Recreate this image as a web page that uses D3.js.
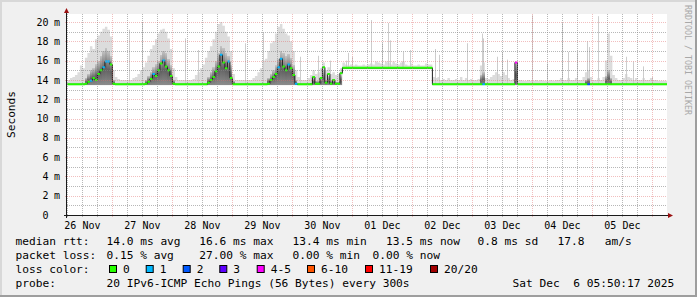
<!DOCTYPE html>
<meta charset="utf-8">
<style>
body { margin: 0; background: #fff; }
text { font-family: "DejaVu Sans Mono", monospace; fill: #000; }
.legend { font-size: 11.2px; }
.tick-label { font-size: 10px; }
.mark { font-size: 8.3px; fill: #a8a8a8; }
</style>
<svg id="chart" width="697" height="297"></svg>
<script src="https://cdn.jsdelivr.net/npm/d3@7"></script>
<script>

// time window of the graph (10 days)
var startTime = new Date(2025, 10, 26, 5, 50, 17);
var endTime = new Date(2025, 11, 6, 5, 50, 17);
var firstHour = new Date(2025, 10, 26, 6, 0, 0);

// median rtt in ms, one value per hour starting Nov 26 06:00
var median = [
  13.55,13.55,13.55,13.55,13.55,13.55,13.55,13.6, 13.8,13.9,14.2,14.0,14.6,15.0,15.3,15.9, 15.9,15.6,13.6,13.55,13.55,13.55,13.55,13.55,
  13.55,13.55,13.55,13.55,13.55,13.55,13.55,13.6, 13.8,14.1,14.6,14.4,15.0,15.7,16.0,15.4, 15.0,14.4,13.6,13.55,13.55,13.55,13.55,13.55,
  13.55,13.55,13.55,13.55,13.55,13.55,13.55,13.55, 13.7,14.0,14.3,14.9,15.4,16.6,15.8,15.2, 15.9,14.2,13.55,13.55,13.55,13.55,13.55,13.55,
  13.55,13.55,13.55,13.55,13.55,13.55,13.55,13.55, 13.6,14.0,14.3,14.6,15.3,16.2,15.4,15.0, 15.6,15.2,14.5,13.6,13.55,13.55,13.55,13.55,
  13.55,13.55,14.3,13.6,13.6,14.2,15.3,13.7, 14.6,13.6,14.0,13.6,13.6,14.7,15.25,15.25, 15.25,15.25,15.25,15.25,15.25,15.25,15.25,15.25,
  15.25,15.25,15.25,15.25,15.25,15.25,15.25,15.25, 15.25,15.25,15.25,15.25,15.25,15.25,15.25,15.25, 15.25,15.25,15.25,15.25,15.25,15.25,15.25,15.25,
  15.25,15.25,13.55,13.55,13.55,13.55,13.55,13.55, 13.55,13.55,13.55,13.55,13.55,13.55,13.55,13.55, 13.55,13.55,13.55,13.55,13.55,13.55,13.55,13.55,
  13.55,13.55,13.55,13.55,13.55,13.55,13.55,13.55, 13.55,13.55,13.55,15.8,13.55,13.55,13.55,13.55, 13.55,13.55,13.55,13.55,13.55,13.55,13.55,13.55,
  13.55,13.55,13.55,13.55,13.55,13.55,13.55,13.55, 13.55,13.55,13.55,13.55,13.55,13.55,13.55,13.55, 13.55,13.55,13.55,13.55,13.55,13.55,13.55,13.55,
  13.55,13.55,13.55,13.55,13.55,13.55,13.55,13.55, 13.55,13.55,13.55,13.55,13.55,13.55,13.55,13.55, 13.55,13.55,13.55,13.55,13.55,13.55,13.55,13.55
];

// smoke: bottom, top of dense core, top of light smoke (ms), per hour
var smokeLo = [
  13.45,13.45,13.45,13.45,13.45,13.45,13.45,13.45, 13.45,13.45,13.45,13.45,13.45,13.45,13.45,13.45, 13.45,13.45,13.45,13.45,13.45,13.45,13.45,13.45,
  13.45,13.45,13.45,13.45,13.45,13.45,13.45,13.45, 13.45,13.45,13.45,13.45,13.45,13.45,13.45,13.45, 13.45,13.45,13.45,13.45,13.45,13.45,13.45,13.45,
  13.45,13.45,13.45,13.45,13.45,13.45,13.45,13.45, 13.45,13.45,13.45,13.45,13.45,13.45,13.45,13.45, 13.45,13.45,13.45,13.45,13.45,13.45,13.45,13.45,
  13.45,13.45,13.45,13.45,13.45,13.45,13.45,13.45, 13.45,13.45,13.45,13.45,13.45,13.45,13.45,13.45, 13.45,13.45,13.45,13.45,13.45,13.45,13.45,13.45,
  13.45,13.45,13.45,13.45,13.45,13.45,13.45,13.45, 13.45,13.45,13.45,13.45,13.45,13.45,15.1,15.1, 15.1,15.1,15.1,15.1,15.1,15.1,15.1,15.1,
  15.1,15.1,15.1,15.1,15.1,15.1,15.1,15.1, 15.1,15.1,15.1,15.1,15.1,15.1,15.1,15.1, 15.1,15.1,15.1,15.1,15.1,15.1,15.1,15.1,
  15.1,15.1,13.45,13.45,13.45,13.45,13.45,13.45, 13.45,13.45,13.45,13.45,13.45,13.45,13.45,13.45, 13.45,13.45,13.45,13.45,13.45,13.45,13.45,13.45,
  13.45,13.45,13.45,13.45,13.45,13.45,13.45,13.45, 13.45,13.45,13.45,13.45,13.45,13.45,13.45,13.45, 13.45,13.45,13.45,13.45,13.45,13.45,13.45,13.45,
  13.45,13.45,13.45,13.45,13.45,13.45,13.45,13.45, 13.45,13.45,13.45,13.45,13.45,13.45,13.45,13.45, 13.45,13.45,13.45,13.45,13.45,13.45,13.45,13.45,
  13.45,13.45,13.45,13.45,13.45,13.45,13.45,13.45, 13.45,13.45,13.45,13.45,13.45,13.45,13.45,13.45, 13.45,13.45,13.45,13.45,13.45,13.45,13.45,13.45
];
var smokeMid = [
  13.6,13.6,13.6,13.6,13.6,13.6,13.6,14.2, 14.6,15.0,15.2,15.6,16.0,16.5,17.0,17.3, 17.0,16.5,14.0,13.6,13.6,13.6,13.6,13.6,
  13.6,13.6,13.6,13.6,13.6,13.6,13.6,14.0, 14.4,14.8,15.3,15.6,16.0,16.6,17.0,16.8, 16.2,15.5,14.0,13.6,13.6,13.6,13.6,13.6,
  13.6,13.6,13.6,13.6,13.6,13.6,13.6,13.6, 14.3,14.8,15.3,16.0,16.8,17.5,17.3,16.8, 16.5,15.5,13.9,13.6,13.6,13.6,13.6,13.6,
  13.6,13.6,13.6,13.6,13.6,13.6,13.6,13.6, 14.2,14.6,15.0,15.5,16.2,17.0,16.8,16.5, 16.7,16.3,15.5,14.0,13.6,13.6,13.6,13.6,
  13.6,13.7,14.2,13.9,13.9,14.2,15.0,14.0, 14.4,13.9,14.0,13.8,13.8,14.5,15.35,15.35, 15.35,15.35,15.35,15.35,15.35,15.35,15.35,15.35,
  15.35,15.35,15.35,15.35,15.35,15.35,15.35,15.35, 15.35,15.35,15.35,15.35,15.35,15.35,15.35,15.35, 15.35,15.35,15.35,15.35,15.35,15.35,15.35,15.35,
  15.35,15.35,13.6,13.6,13.6,13.6,13.6,13.6, 13.6,13.6,13.6,13.6,13.6,13.6,13.6,13.6, 13.6,13.6,13.6,13.6,13.6,14.5,14.8,13.6,
  13.6,13.6,13.6,13.6,13.6,13.6,13.6,13.6, 13.6,13.6,13.6,15.8,13.6,13.6,13.6,13.6, 13.6,13.6,13.6,13.6,13.6,13.6,13.6,13.6,
  13.6,13.6,13.6,13.6,13.6,13.6,13.6,13.6, 13.6,13.6,13.6,13.6,13.6,13.6,13.6,14.0, 14.2,13.6,13.6,13.6,13.6,13.6,13.6,14.4,
  15.0,14.2,13.6,13.6,13.6,13.6,13.6,13.6, 13.6,13.6,13.6,13.6,13.6,13.6,13.6,13.6, 13.6,13.6,13.6,13.6,13.6,13.6,13.6,13.6
];
var smokeHi = [
  14.0,14.2,14.3,14.5,14.8,15.5,15.2,16.3, 16.8,17.5,17.2,18.2,18.6,19.0,19.3,19.5, 19.2,18.5,15.0,14.3,14.1,14.0,14.0,14.0,
  14.0,14.0,14.2,14.3,14.6,15.0,15.3,15.8, 16.5,17.2,17.6,18.2,18.8,19.2,19.3,19.0, 18.3,17.2,15.2,14.3,14.0,14.0,14.0,14.0,
  14.0,14.0,14.1,14.5,14.8,15.2,15.6,16.3, 17.0,17.5,18.2,19.0,19.8,20.0,19.6,19.0, 18.5,17.0,14.6,14.0,14.0,14.0,14.0,14.0,
  14.0,14.0,14.2,14.4,14.8,15.2,16.0,16.2, 17.0,17.8,18.0,18.8,19.5,19.8,19.3,18.8, 18.6,18.0,17.0,15.0,14.3,14.0,14.0,14.0,
  14.2,14.5,15.0,14.6,14.8,15.2,15.8,15.0, 15.3,14.6,14.8,14.5,14.6,15.2,15.8,15.6, 15.5,15.6,15.5,15.6,15.5,15.5,15.6,15.5,
  15.6,15.7,15.6,15.9,15.8,15.7,15.6,15.9, 15.8,15.6,15.9,15.7,15.6,15.8,15.9,15.6, 15.5,15.7,15.5,15.5,15.6,15.5,15.5,15.7,
  15.6,15.6,14.3,14.2,14.3,14.0,14.1,14.0, 14.2,14.0,14.0,14.1,14.0,14.3,14.0,14.2, 14.0,14.1,14.0,14.0,14.1,15.5,15.8,14.2,
  14.1,14.3,14.5,14.8,14.6,14.4,14.8,14.5, 14.2,14.0,14.1,15.9,14.0,14.0,13.9,13.9, 14.0,13.9,13.9,14.0,13.9,14.0,13.9,13.9,
  13.9,14.0,13.9,14.0,14.0,14.2,14.0,14.0, 14.2,14.0,14.0,14.2,14.0,14.0,14.3,14.8, 15.0,14.3,14.0,14.0,14.2,14.0,14.3,16.0,
  18.8,16.5,14.5,14.2,14.0,14.0,14.2,14.6, 14.3,14.2,14.0,14.2,14.0,14.0,14.2,14.0, 14.0,14.2,14.0,14.0,13.9,13.9,13.9,13.9
];

// hours (since Nov 26 06:00) that had packet loss, and how many of 20 pings were lost
var lossHours = [9, 14, 15, 16, 34, 38, 61, 64, 84, 85, 88, 91, 166, 179, 208];
var lossCounts = [1, 1, 1, 1, 1, 1, 1, 1, 1, 1, 1, 1, 1, 4, 2];

// isolated outlier pings: hour offset and top value (ms)
var spikeHours = [24.6, 30.0, 47.0, 52.2, 71.0, 78.2, 93.0, 100.2, 105.0, 111.4, 112.2, 113.7,
  121.4, 125.7, 128.4, 129.0, 133.7, 134.2, 137.0, 147.0, 148.8, 159.7, 165.7, 166.4, 171.7,
  174.0, 175.7, 185.7, 191.7, 197.7, 200.4, 203.7, 207.7, 208.8, 212.4, 223.4, 226.4, 230.4, 233.7];
var spikeTops = [19.2, 20.0, 18.3, 17.1, 17.8, 18.9, 16.4, 16.5, 16.0, 16.0, 16.8, 16.4,
  20.2, 17.8, 19.9, 18.1, 15.9, 16.9, 17.1, 17.2, 16.6, 17.8, 18.8, 18.3, 16.4,
  16.9, 16.1, 20.7, 15.7, 19.9, 16.9, 16.8, 18.0, 17.4, 20.6, 16.4, 15.9, 15.4, 14.3];

var yTicks = [0, 2, 4, 6, 8, 10, 12, 14, 16, 18, 20];
var yMinor = [1, 3, 5, 7, 9, 11, 13, 15, 17, 19];

var lossLabels = ["0", "1", "2", "3", "4-5", "6-10", "11-19", "20/20"];
var lossColors = ["#26ff00", "#00b8ff", "#0059ff", "#5e00ff", "#ff00ff", "#ff5500", "#ff0000", "#a10000"];

var rttStats = ["14.0 ms avg", "16.6 ms max", "13.4 ms min", "13.5 ms now", "0.8 ms sd", "17.8   am/s"];
var lossStats = ["0.15 % avg", "27.00 % max", "0.00 % min", "0.00 % now"];
var probeText = "20 IPv6-ICMP Echo Pings (56 Bytes) every 300s";
var stampText = "Sat Dec  6 05:50:17 2025";

/*****************************************************************************/

var svg = d3.select("#chart");
var plotL = 67, plotR = 667, plotT = 14, plotB = 215;

var x = d3.scaleTime().domain([startTime, endTime]).range([plotL, plotR]);
var y = d3.scaleLinear().domain([0, 20]).range([plotB, 22]);

var hours = d3.range(median.length + 1).map(function(i) { return d3.timeHour.offset(firstHour, i); });

function bucket(n) {
  if (n <= 3) return n;
  if (n <= 5) return 4;
  if (n <= 10) return 5;
  if (n <= 19) return 6;
  return 7;
}

// frame
svg.append("rect").attr("width", 697).attr("height", 297).attr("fill", "#f0f0f0");
svg.append("path").attr("d", "M0,0H697V2H2V297H0Z").attr("fill", "#d8d8d8");
svg.append("path").attr("d", "M697,0V297H0V295H695V0Z").attr("fill", "#9e9e9e");
svg.append("rect").attr("x", plotL).attr("y", plotT).attr("width", plotR - plotL).attr("height", plotB - plotT).attr("fill", "#fff");

var defs = svg.append("defs");
defs.append("clipPath").attr("id", "plot")
  .append("rect").attr("x", plotL).attr("y", plotT).attr("width", plotR - plotL).attr("height", plotB - plotT);

var grad = defs.append("linearGradient").attr("id", "core").attr("x1", 0).attr("y1", 0).attr("x2", 0).attr("y2", 1);
grad.append("stop").attr("offset", "0%").attr("stop-color", "#c4c4c4");
grad.append("stop").attr("offset", "55%").attr("stop-color", "#626262");
grad.append("stop").attr("offset", "100%").attr("stop-color", "#8c8c8c");

var g = svg.append("g").attr("clip-path", "url(#plot)");

// light smoke
var last = median.length - 1;
g.append("path")
  .datum(hours)
  .attr("fill", "#dcdcdc")
  .attr("d", d3.area()
    .curve(d3.curveStepAfter)
    .x(function(d) { return x(d); })
    .y0(function(d, i) { return y(smokeLo[Math.min(i, last)]); })
    .y1(function(d, i) { return y(smokeHi[Math.min(i, last)]); }));

// outlier spikes
function spikeX(h) { return Math.round(x(d3.timeMinute.offset(firstHour, Math.round(h * 60)))) + 0.5; }
g.selectAll(".spike")
  .data(spikeHours)
  .enter().append("line")
    .attr("class", "spike")
    .attr("x1", spikeX)
    .attr("x2", spikeX)
    .attr("y1", function(d) { return y(median[Math.floor(d)]); })
    .attr("y2", function(d, i) { return y(spikeTops[i]); })
    .attr("stroke", "#cdcdcd");

// dense smoke core
g.selectAll(".core")
  .data(median)
  .enter().append("rect")
    .attr("class", "core")
    .attr("shape-rendering", "crispEdges")
    .attr("x", function(d, i) { return x(hours[i]); })
    .attr("width", function(d, i) { return x(hours[i + 1]) - x(hours[i]); })
    .attr("y", function(d, i) { return y(smokeMid[i]); })
    .attr("height", function(d, i) { return Math.max(0, y(smokeLo[i]) - y(smokeMid[i])); })
    .attr("fill", "url(#core)");

// grid
var grid = svg.append("g");
var minorCol = "rgba(135,135,135,0.6)", majorCol = "rgba(225,110,110,0.45)";
yMinor.forEach(function(v) {
  grid.append("line").attr("x1", plotL).attr("x2", plotR).attr("y1", Math.round(y(v)) + 0.5).attr("y2", Math.round(y(v)) + 0.5)
    .attr("stroke", minorCol).attr("stroke-dasharray", "1,1");
});
d3.timeHour.every(6).range(startTime, endTime).forEach(function(t) {
  if (t.getHours() === 0) return;
  grid.append("line").attr("x1", Math.round(x(t)) + 0.5).attr("x2", Math.round(x(t)) + 0.5).attr("y1", plotT).attr("y2", plotB + 2)
    .attr("stroke", minorCol).attr("stroke-dasharray", "1,1");
});
yTicks.slice(1).forEach(function(v) {
  grid.append("line").attr("x1", plotL - 2).attr("x2", plotR).attr("y1", Math.round(y(v)) + 0.5).attr("y2", Math.round(y(v)) + 0.5)
    .attr("stroke", majorCol).attr("stroke-dasharray", "1,1");
});
d3.timeDay.range(startTime, endTime).forEach(function(t) {
  grid.append("line").attr("x1", Math.round(x(t)) + 0.5).attr("x2", Math.round(x(t)) + 0.5).attr("y1", plotT).attr("y2", plotB + 3)
    .attr("stroke", majorCol).attr("stroke-dasharray", "1,1");
});

// median line
g.append("path")
  .datum(median.concat([median[last]]))
  .attr("fill", "none")
  .attr("stroke", "#1e1e1e")
  .attr("stroke-width", 1)
  .attr("d", d3.line()
    .curve(d3.curveStepAfter)
    .x(function(d, i) { return x(hours[i]); })
    .y(function(d) { return y(d); }));

// median coloured by loss
var segs = lossColors.map(function() { return ""; });
median.forEach(function(d, i) {
  var k = lossHours.indexOf(i);
  var b = k < 0 ? 0 : bucket(lossCounts[k]);
  segs[b] += "M" + x(hours[i]) + "," + y(d) + "H" + x(hours[i + 1]);
});
segs.forEach(function(p, b) {
  if (!p) return;
  g.append("path").attr("d", p).attr("fill", "none").attr("stroke", lossColors[b]).attr("stroke-width", 2);
});

// axes
svg.append("line").attr("x1", plotL - 3).attr("x2", plotR + 2).attr("y1", plotB + 0.5).attr("y2", plotB + 0.5).attr("stroke", "#1a1a1a");
svg.append("line").attr("x1", plotL - 0.5).attr("x2", plotL - 0.5).attr("y1", plotB + 3).attr("y2", 12).attr("stroke", "#1a1a1a");
svg.append("path").attr("d", "M668,213L673,215.5L668,218Z").attr("fill", "#9a1010");
svg.append("path").attr("d", "M64,13L66.5,8L69,13Z").attr("fill", "#9a1010");

// y labels
var yl = svg.append("g").attr("class", "tick-label");
yTicks.forEach(function(v) {
  yl.append("text").attr("x", 48.5).attr("y", y(v) + 3.6).attr("text-anchor", "end").text(v);
  if (v !== 0) yl.append("text").attr("x", 54).attr("y", y(v) + 3.6).text("m");
});

// x labels at noon
var noons = d3.timeHour.range(startTime, endTime).filter(function(t) { return t.getHours() === 12; });
svg.append("g").attr("class", "tick-label")
  .selectAll("text")
  .data(noons)
  .enter().append("text")
    .attr("x", function(d) { return x(d); })
    .attr("y", 228.5)
    .attr("text-anchor", "middle")
    .text(d3.timeFormat("%d %b"));

svg.append("text").attr("class", "legend")
  .attr("transform", "translate(15,114.5) rotate(-90)")
  .attr("text-anchor", "middle")
  .text("Seconds");

svg.append("text").attr("class", "mark")
  .attr("transform", "translate(684.5,5) rotate(90)")
  .text("RRDTOOL / TOBI OETIKER");

// legend
function say(sel, px, py, s) {
  sel.append("text").attr("x", px).attr("y", py).attr("xml:space", "preserve").text(s);
}
var rowY = [245, 259, 273, 286.5];
var lg = svg.append("g").attr("class", "legend");
say(lg, 15.5, rowY[0], "median rtt:");
[106.5, 199.3, 292.6, 386, 477.6, 557.6].forEach(function(px, i) { say(lg, px, rowY[0], rttStats[i]); });
say(lg, 15.5, rowY[1], "packet loss:");
[106.5, 199.3, 292.6, 372.6].forEach(function(px, i) { say(lg, px, rowY[1], lossStats[i]); });
say(lg, 15.5, rowY[2], "loss color:");
[109, 145.7, 182.7, 219.3, 256.7, 307, 365, 430].forEach(function(px, i) {
  lg.append("rect").attr("x", px + 0.5).attr("y", 265.5).attr("width", 7).attr("height", 7)
    .attr("fill", lossColors[i]).attr("stroke", "#000");
  say(lg, px + 14, rowY[2], lossLabels[i]);
});
say(lg, 15.5, rowY[3], "probe:");
say(lg, 106.5, rowY[3], probeText);
say(lg, 512.6, rowY[3], stampText);

</script>
